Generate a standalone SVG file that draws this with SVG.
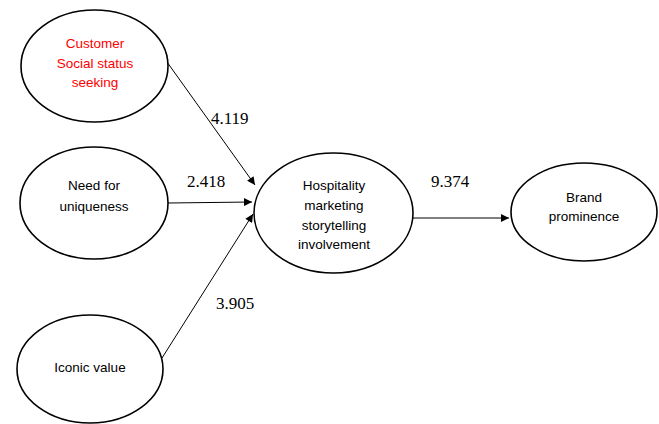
<svg xmlns="http://www.w3.org/2000/svg" width="659" height="424" viewBox="0 0 659 424">
<defs>
<marker id="arr" viewBox="0 0 10 10" refX="10" refY="5" markerWidth="10" markerHeight="8" markerUnits="userSpaceOnUse" orient="auto">
<path d="M0,0 L10,5 L0,10 z" fill="#000"/>
</marker>
</defs>
<style>
.node ellipse{fill:#fff;stroke:#000;stroke-width:1.6}
.lbl{font-family:"Liberation Sans",Arial,sans-serif;font-size:13.5px;text-anchor:middle;fill:#000}
.red{fill:#ff0000}
.num{font-family:"Liberation Serif","Times New Roman",serif;font-size:17px;fill:#000}
#connectors line{stroke:#000;stroke-width:1;marker-end:url(#arr)}
</style>
<rect width="659" height="424" fill="#fff"/>
<g id="connectors">
<line x1="167" y1="62" x2="255" y2="185"/>
<line x1="168" y1="203" x2="252" y2="202"/>
<line x1="162" y1="358" x2="253" y2="214"/>
<line x1="413" y1="218" x2="509" y2="218"/>
</g>
<g id="n-customer" class="node">
<ellipse cx="94.5" cy="66" rx="73.5" ry="56"/>
<text class="lbl red" x="95" y="48">Customer</text>
<text class="lbl red" x="95" y="68">Social status</text>
<text class="lbl red" x="95" y="87">seeking</text>
</g>
<g id="n-need" class="node">
<ellipse cx="94" cy="203" rx="74" ry="56"/>
<text class="lbl" x="94" y="190">Need for</text>
<text class="lbl" x="94" y="211">uniqueness</text>
</g>
<g id="n-iconic" class="node">
<ellipse cx="90" cy="369" rx="73" ry="54"/>
<text class="lbl" x="90" y="372">Iconic value</text>
</g>
<g id="n-hosp" class="node">
<ellipse cx="333.5" cy="213" rx="79.5" ry="60"/>
<text class="lbl" x="334" y="190">Hospitality</text>
<text class="lbl" x="334" y="210">marketing</text>
<text class="lbl" x="334" y="230">storytelling</text>
<text class="lbl" x="334" y="249">involvement</text>
</g>
<g id="n-brand" class="node">
<ellipse cx="584" cy="212" rx="73" ry="49"/>
<text class="lbl" x="584" y="202">Brand</text>
<text class="lbl" x="584" y="221">prominence</text>
</g>
<g id="labels">
<text class="num" x="211" y="124">4.119</text>
<text class="num" x="187" y="187">2.418</text>
<text class="num" x="216" y="309">3.905</text>
<text class="num" x="431" y="187">9.374</text>
</g>
</svg>
